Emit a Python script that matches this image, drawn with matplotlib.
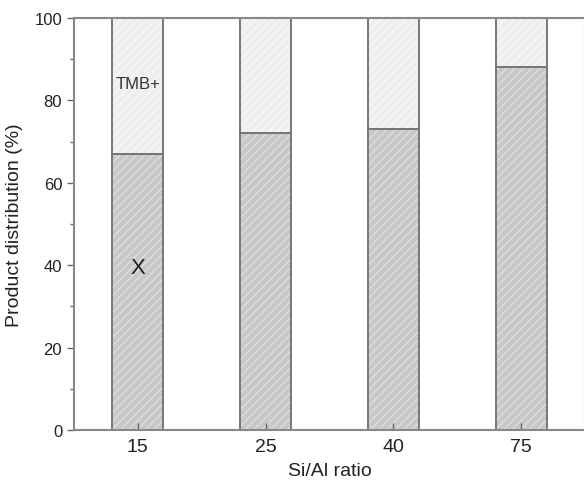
import numpy as np
import matplotlib
matplotlib.use("Agg")
from matplotlib import pyplot as plt

ratios = ['15', '25', '40', '75']
x_share = [67, 72, 73, 88]
tmb_share = [100 - v for v in x_share]

plt.rcParams['font.family'] = 'Liberation Sans'
plt.rcParams['hatch.linewidth'] = 0.7

fig = plt.figure(figsize=(5.84, 4.85), dpi=100)
ax = fig.add_axes([0.1267, 0.1113, 0.8750, 0.8495])

pos = np.arange(len(ratios))
w = 0.4

# fills with light hatching, then outlines on top
ax.bar(pos, x_share, w, color='#c8c8c8', edgecolor='#e6e6e6', hatch='////', linewidth=0)
ax.bar(pos, tmb_share, w, bottom=x_share, color='#eeeeee', edgecolor='#fbfbfb',
       hatch='////', linewidth=0)
ax.bar(pos, x_share, w, fill=False, edgecolor='#777777', linewidth=1.4)
ax.bar(pos, tmb_share, w, bottom=x_share, fill=False, edgecolor='#777777', linewidth=1.4)

ax.text(0, 84, 'TMB+', ha='center', va='center', fontsize=12, color='#333333')
ax.text(0, 39.5, 'X', ha='center', va='center', fontsize=16, color='#222222')

ax.set_xlim(-0.5, 3.5)
ax.set_ylim(0, 100)
ax.set_xticks(pos)
ax.set_xticklabels(ratios)
ax.set_yticks([0, 20, 40, 60, 80, 100])
ax.set_yticks([10, 30, 50, 70, 90], minor=True)
ax.tick_params(axis='y', which='major', direction='out', length=5, width=1, color='#666666',
               labelsize=12, labelcolor='#222222')
ax.tick_params(axis='y', which='minor', direction='out', length=3, width=1, color='#666666')
ax.tick_params(axis='x', direction='in', length=5, width=1, color='#666666',
               labelsize=14, labelcolor='#222222', pad=6)
for s in ax.spines.values():
    s.set_color('#888888')
    s.set_linewidth(1.5)

ax.set_xlabel('Si/Al ratio', fontsize=14, color='#222222', labelpad=5)
ax.set_ylabel('Product distribution (%)', fontsize=14, color='#222222', labelpad=8)

fig.savefig('out.png', dpi=100)
